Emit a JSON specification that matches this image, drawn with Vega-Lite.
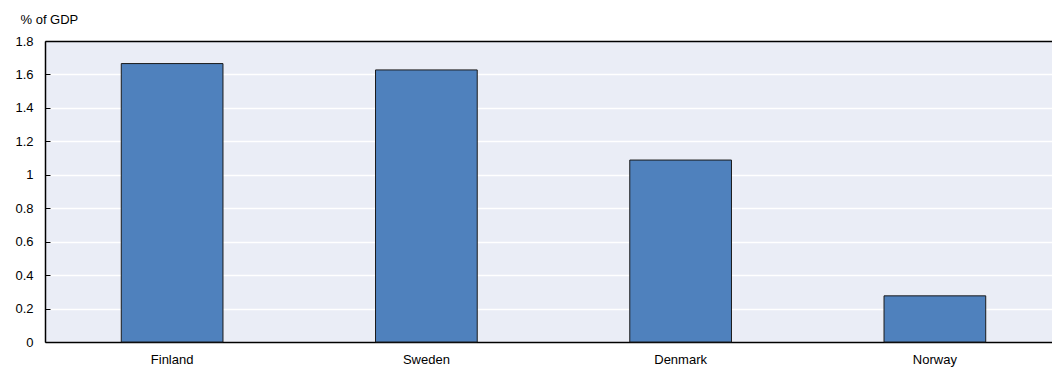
{
  "$schema": "https://vega.github.io/schema/vega-lite/v6.json",
  "autosize": {"type": "none"},
  "width": 1017,
  "height": 301,
  "padding": {"left": 45, "top": 41, "right": 0, "bottom": 25},
  "background": "white",
  "config": {
    "font": "Liberation Sans",
    "view": {"fill": "#eaedf6", "stroke": null},
    "axis": {"labelFont": "Liberation Sans", "titleFont": "Liberation Sans", "labelColor": "#000000", "titleColor": "#000000"}
  },
  "data": {
    "values": [
      {"country": "Finland", "value": 1.665},
      {"country": "Sweden", "value": 1.627},
      {"country": "Denmark", "value": 1.088},
      {"country": "Norway", "value": 0.276}
    ]
  },
  "mark": {"type": "bar", "color": "#4f81bd", "stroke": "#1a1a1a", "strokeWidth": 1},
  "encoding": {
    "x": {
      "field": "country",
      "type": "nominal",
      "sort": null,
      "scale": {"paddingInner": 0.6, "paddingOuter": 0.3},
      "axis": {
        "title": null,
        "labelAngle": 0,
        "labelFontSize": 13,
        "labelPadding": 11,
        "ticks": false,
        "domainColor": "#000000",
        "domainWidth": 1.5
      }
    },
    "y": {
      "field": "value",
      "type": "quantitative",
      "scale": {"domain": [0, 1.8], "nice": false},
      "axis": {
        "title": "% of GDP",
        "titleAngle": 0,
        "titleAlign": "left",
        "titleBaseline": "alphabetic",
        "titleFontSize": 13,
        "titleFontWeight": "normal",
        "titleX": -25,
        "titleY": -18,
        "values": [0, 0.2, 0.4, 0.6, 0.8, 1, 1.2, 1.4, 1.6, 1.8],
        "format": ".1~f",
        "labelFontSize": 13,
        "labelPadding": 17,
        "tickSize": -5,
        "tickColor": "#000000",
        "domainColor": "#000000",
        "domainWidth": 1.5,
        "grid": true,
        "gridColor": {"condition": {"test": "datum.value === 1.8", "value": "#000000"}, "value": "#ffffff"},
        "gridWidth": 1.5
      }
    }
  }
}
